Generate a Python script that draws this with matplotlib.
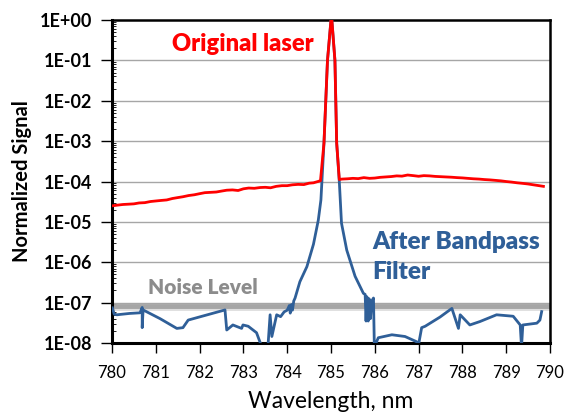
#!/usr/bin/env python3
"""
Laser spectrum before / after a bandpass filter, normalized signal on a log axis.
Saves out.png.
"""
import matplotlib
matplotlib.use('Agg')  # headless
import matplotlib.pyplot as plt
from matplotlib.ticker import LogLocator, NullFormatter, FixedLocator

plt.rcParams['font.family'] = ['Lato', 'DejaVu Sans']

# Original laser (red)
red_wl = [780.0, 780.12, 780.25, 780.38, 780.5, 780.62, 780.75, 780.88, 781.0, 781.12,
          781.25, 781.38, 781.5, 781.62, 781.75, 781.88, 782.0, 782.12, 782.25, 782.38,
          782.5, 782.62, 782.75, 782.88, 783.0, 783.12, 783.25, 783.38, 783.5, 783.62,
          783.75, 783.88, 784.0, 784.12, 784.25, 784.38, 784.5, 784.6, 784.7, 784.76,
          784.84, 784.92, 785.0, 785.02, 785.09, 785.13, 785.19, 785.25, 785.38, 785.5,
          785.62, 785.75, 785.88, 786.0, 786.12, 786.25, 786.38, 786.5, 786.62, 786.75,
          786.88, 787.0, 787.12, 787.25, 787.38, 787.5, 787.62, 787.75, 787.88, 788.0,
          788.12, 788.25, 788.38, 788.5, 788.62, 788.75, 788.88, 789.0, 789.12, 789.25,
          789.38, 789.5, 789.62, 789.75, 789.85]
red_sig = [2.5e-5, 2.6e-5, 2.7e-5, 2.75e-5, 2.8e-5, 2.95e-5, 3.0e-5, 3.2e-5, 3.3e-5, 3.4e-5,
           3.5e-5, 3.8e-5, 4.0e-5, 4.2e-5, 4.5e-5, 4.7e-5, 5.0e-5, 5.3e-5, 5.4e-5, 5.5e-5,
           5.8e-5, 6.1e-5, 6.2e-5, 6.0e-5, 6.6e-5, 6.9e-5, 6.8e-5, 7.1e-5, 7.2e-5, 7.0e-5,
           7.6e-5, 7.9e-5, 7.9e-5, 8.3e-5, 8.5e-5, 8.4e-5, 9.1e-5, 9.3e-5, 1.0e-4, 1.05e-4,
           9e-4, 0.1, 1.0, 1.0, 0.1, 9e-4, 1.12e-4, 1.15e-4, 1.17e-4, 1.2e-4,
           1.18e-4, 1.25e-4, 1.2e-4, 1.22e-4, 1.27e-4, 1.3e-4, 1.33e-4, 1.38e-4, 1.36e-4, 1.45e-4,
           1.4e-4, 1.35e-4, 1.4e-4, 1.38e-4, 1.34e-4, 1.32e-4, 1.3e-4, 1.28e-4, 1.25e-4, 1.23e-4,
           1.2e-4, 1.17e-4, 1.15e-4, 1.12e-4, 1.1e-4, 1.07e-4, 1.04e-4, 1.0e-4, 9.7e-5, 9.3e-5,
           9.0e-5, 8.7e-5, 8.3e-5, 7.9e-5, 7.6e-5]

# After bandpass filter (blue)
blue_wl = [780.01, 780.05, 780.11, 780.4, 780.64, 780.69, 780.69, 780.71, 781.1, 781.48,
           781.62, 781.74, 782.58, 782.62, 782.76, 782.96, 782.99, 783.11, 783.3, 783.42,
           783.56, 783.61, 783.65, 783.76, 783.85, 783.93, 784.0, 784.05, 784.07, 784.1,
           784.12, 784.15, 784.18, 784.29, 784.45, 784.6, 784.71, 784.77, 784.84, 784.92,
           785.0, 785.02, 785.09, 785.13, 785.19, 785.24, 785.36, 785.55, 785.74, 785.78,
           785.8, 785.82, 785.85, 785.87, 785.9, 785.93, 785.97, 785.99, 786.08, 786.39,
           786.69, 786.96, 786.99, 787.07, 787.15, 787.49, 787.76, 787.91, 787.95, 788.17,
           788.4, 788.78, 789.16, 789.32, 789.35, 789.38, 789.7, 789.77, 789.81]
blue_sig = [7.4e-8, 5.2e-8, 5.0e-8, 5.4e-8, 5.6e-8, 7.6e-8, 2.4e-8, 6.6e-8, 4.0e-8, 2.3e-8,
            2.4e-8, 3.7e-8, 6.6e-8, 2.1e-8, 2.8e-8, 2.3e-8, 2.8e-8, 2.6e-8, 1.8e-8, 8e-9,
            8e-9, 5.0e-8, 1.45e-8, 5.0e-8, 4.5e-8, 5.9e-8, 6.5e-8, 8.5e-8, 5.5e-8, 9.0e-8,
            6.5e-8, 1.1e-7, 1.3e-7, 3.3e-7, 7.8e-7, 2.8e-6, 1.1e-5, 3.5e-5, 9e-4, 0.1,
            1.0, 1.0, 0.1, 9e-4, 1.0e-4, 9.3e-6, 2.0e-6, 4.5e-7, 1.7e-7, 1.6e-7,
            3.5e-8, 1.4e-7, 3.5e-8, 1.25e-7, 4.0e-8, 1.1e-7, 1.3e-7, 8e-9, 1.35e-8, 1.6e-8,
            1.45e-8, 1.07e-8, 8e-9, 2.4e-8, 2.6e-8, 4.4e-8, 7.2e-8, 2.3e-8, 5.0e-8, 2.8e-8,
            3.4e-8, 5.0e-8, 4.6e-8, 2.8e-8, 8e-9, 2.8e-8, 3.1e-8, 3.7e-8, 6.0e-8]

noise_level = 8.4e-8
x_ticks = [780, 781, 782, 783, 784, 785, 786, 787, 788, 789, 790]
y_ticks = [1e-8, 1e-7, 1e-6, 1e-5, 1e-4, 1e-3, 1e-2, 1e-1, 1e0]
y_labels = ['1E-08', '1E-07', '1E-06', '1E-05', '1E-04', '1E-03', '1E-02', '1E-01', '1E+00']

RED = '#ff0000'
BLUE = '#2f5f98'
GREY = '#8c8c8c'

fig = plt.figure(figsize=(5.67, 4.18), dpi=100)
ax = fig.add_axes([0.1975, 0.1794, 0.7725, 0.7726])

ax.set_yscale('log')
ax.set_xlim(780, 790)
ax.set_ylim(1e-8, 1.0)

# grid
for yv in y_ticks[1:-1]:
    ax.axhline(yv, color='#a6a6a6', lw=1.0, zorder=1)

# noise band with a soft shadow below it
ax.axhline(noise_level * 0.86, color='#dedede', lw=3.5, zorder=2)
ax.axhline(noise_level, color='#a6a6a6', lw=3.5, zorder=2)

ax.plot(blue_wl, blue_sig, color=BLUE, lw=2.0, zorder=3)
ax.plot(red_wl, red_sig, color=RED, lw=2.0, zorder=4)

ax.text(781.37, 0.26, 'Original laser', color=RED, fontsize=17,
        fontweight='heavy', va='center', ha='left')
ax.text(785.94, 3.2e-6, 'After Bandpass', color=BLUE, fontsize=17.5,
        fontweight='heavy', va='center', ha='left')
ax.text(785.94, 5.8e-7, 'Filter', color=BLUE, fontsize=17.5,
        fontweight='heavy', va='center', ha='left')
ax.text(780.82, 2.4e-7, 'Noise Level', color=GREY, fontsize=15,
        fontweight='heavy', va='center', ha='left')

ax.xaxis.set_major_locator(FixedLocator(x_ticks))
ax.set_yticks(y_ticks)
ax.set_yticklabels(y_labels)
ax.yaxis.set_minor_locator(LogLocator(base=10, subs=range(2, 10), numticks=20))
ax.yaxis.set_minor_formatter(NullFormatter())
ax.tick_params(axis='y', which='major', direction='out', length=8, width=1,
               labelsize=13, pad=6)
ax.tick_params(axis='y', which='minor', direction='in', length=3, width=0.6)
ax.tick_params(axis='x', which='major', direction='out', length=7, width=1,
               labelsize=12, pad=9, colors='black')
for lbl in ax.get_yticklabels():
    lbl.set_fontweight('bold')

for side in ['left', 'bottom']:
    ax.spines[side].set_linewidth(2.2)
for side in ['top', 'right']:
    ax.spines[side].set_linewidth(1.8)

ax.set_xlabel('Wavelength, nm', fontsize=16.5, labelpad=7)
ax.set_ylabel('Normalized Signal', fontsize=14.5, fontweight='bold', labelpad=6)

plt.savefig('out.png', dpi=100)
